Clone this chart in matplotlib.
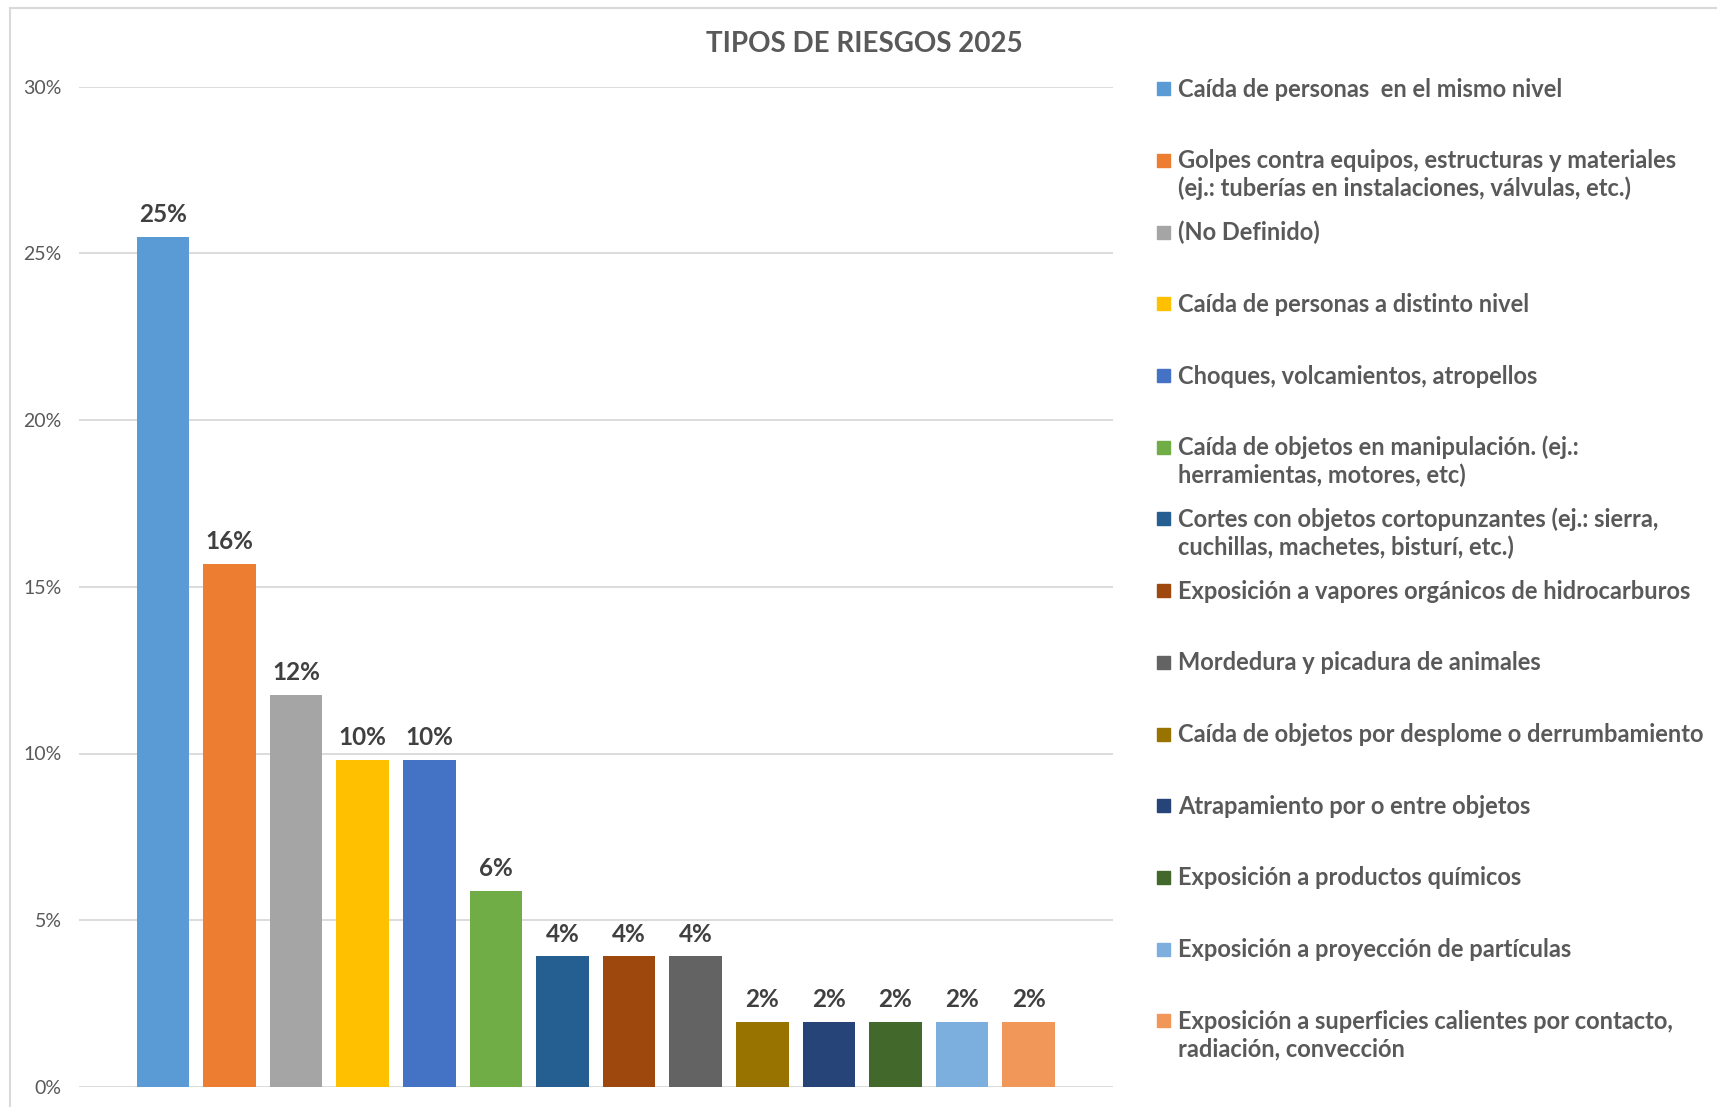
import numpy as np
import matplotlib
matplotlib.use("Agg")
import matplotlib.pyplot as plt
from matplotlib.patches import Rectangle
from matplotlib.lines import Line2D

plt.rcParams['font.family'] = ['Lato', 'DejaVu Sans']

title = "TIPOS DE RIESGOS 2025"
categories = [
    "Caída de personas  en el mismo nivel",
    "Golpes contra equipos, estructuras y materiales\n(ej.: tuberías en instalaciones, válvulas, etc.)",
    "(No Definido)",
    "Caída de personas a distinto nivel",
    "Choques, volcamientos, atropellos",
    "Caída de objetos en manipulación. (ej.:\nherramientas, motores, etc)",
    "Cortes con objetos cortopunzantes (ej.: sierra,\ncuchillas, machetes, bisturí, etc.)",
    "Exposición a vapores orgánicos de hidrocarburos",
    "Mordedura y picadura de animales",
    "Caída de objetos por desplome o derrumbamiento",
    "Atrapamiento por o entre objetos",
    "Exposición a productos químicos",
    "Exposición a proyección de partículas",
    "Exposición a superficies calientes por contacto,\nradiación, convección",
]
values = [0.2549, 0.1569, 0.1176, 0.0980, 0.0980, 0.0588, 0.0392, 0.0392, 0.0392,
          0.0196, 0.0196, 0.0196, 0.0196, 0.0196]
colors = ["#5B9BD5", "#ED7D31", "#A5A5A5", "#FFC000", "#4472C4", "#70AD47",
          "#255E91", "#9E480E", "#636363", "#997300", "#264478", "#43682B",
          "#7CAFDD", "#F1975A"]
yticks = [0, 0.05, 0.10, 0.15, 0.20, 0.25, 0.30]
ytick_labels = ["0%", "5%", "10%", "15%", "20%", "25%", "30%"]

W, H = 1717, 1107
fig = plt.figure(figsize=(W / 100, H / 100), dpi=100)

def fx(px):
    return px / W

def fy(py):
    return 1 - py / H

# chart border (left & top visible)
fig.add_artist(Line2D([fx(10), fx(10)], [fy(8), 0], color="#D9D9D9", lw=1.5))
fig.add_artist(Line2D([fx(10), 1], [fy(8), fy(8)], color="#D9D9D9", lw=1.5))

left, right, top, bottom = 79, 1112.5, 86.5, 1087
ax = fig.add_axes([fx(left), fy(bottom), (right - left) / W, (bottom - top) / H])
x = np.arange(len(values))
ax.bar(x, values, width=0.79, color=colors, zorder=3)
ax.set_xlim(-1.26, len(values) - 1 + 1.26)
ax.set_ylim(0, 0.30)
ax.set_yticks(yticks)
ax.set_yticklabels(ytick_labels, color="#595959", fontsize=14)
ax.set_xticks([])
ax.tick_params(axis='y', length=0, pad=12.5)
for s in ax.spines.values():
    s.set_visible(False)
ax.yaxis.grid(True, color="#D9D9D9", lw=1.3, zorder=0)
ax.set_axisbelow(True)

for xi, v in zip(x, values):
    ax.annotate(f"{v * 100:.0f}%", (xi, v), xytext=(0, 16), textcoords="offset points",
                ha="center", va="center", fontsize=17.5, fontweight="bold", color="#404040")

fig.text(fx(864), fy(44), title, ha="center", va="center", fontsize=20,
         fontweight="bold", color="#595959")

# legend
y0, dy, lh = 88.7, 71.7, 28
for i, (lab, c) in enumerate(zip(categories, colors)):
    yc = y0 + i * dy
    fig.add_artist(Rectangle((fx(1157), fy(yc + 6.5)), 13 / W, 13 / H,
                             transform=fig.transFigure, color=c))
    for j, line in enumerate(lab.split("\n")):
        fig.text(fx(1178), fy(yc + j * lh + 8), line, ha="left", va="baseline",
                 fontsize=17, fontweight="bold", color="#595959")

fig.savefig("out.png", dpi=100, facecolor="white")
